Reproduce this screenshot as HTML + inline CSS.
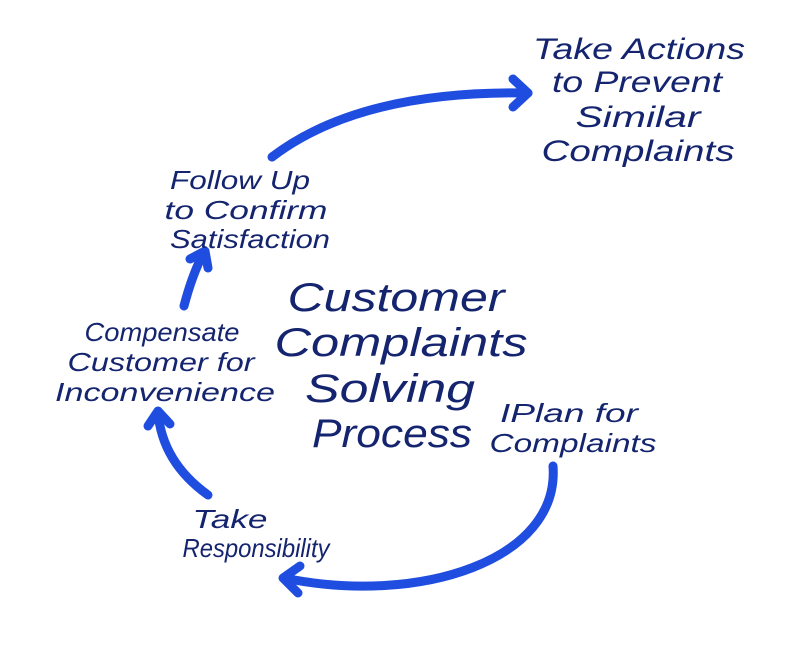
<!DOCTYPE html>
<html><head><style>
html,body{margin:0;padding:0;background:#fff;}
svg{display:block;}
text{font-family:"Liberation Sans",sans-serif;font-style:italic;fill:#14246e;text-anchor:middle;}
</style></head><body>
<svg width="800" height="655" viewBox="0 0 800 655" xmlns="http://www.w3.org/2000/svg">
<g fill="none" stroke="#1f4de0" stroke-width="9" stroke-linecap="round" stroke-linejoin="round">
<path d="M272 157 Q360 90 528 93"/><path d="M513 79 L528 93 L513 107"/>
<path d="M184 306 Q192 275 204 252"/><path d="M190 259 L205 251 L208 268"/>
<path d="M208 495 Q162 462 158 412"/><path d="M148 426 L158 411 L170 424"/>
<path d="M553 466 C560 560 420 606 284 578"/><path d="M300 566 L283 578 L298 593"/>
</g>
<g font-size="30" lengthAdjust="spacingAndGlyphs">
<text x="639" y="59" textLength="212" lengthAdjust="spacingAndGlyphs">Take Actions</text>
<text x="637" y="92" textLength="170" lengthAdjust="spacingAndGlyphs">to Prevent</text>
<text x="638" y="127" textLength="125" lengthAdjust="spacingAndGlyphs">Similar</text>
<text x="638" y="161" textLength="193" lengthAdjust="spacingAndGlyphs">Complaints</text>
</g>
<g font-size="26">
<text x="240" y="189" textLength="140" lengthAdjust="spacingAndGlyphs">Follow Up</text>
<text x="246" y="219" textLength="163" lengthAdjust="spacingAndGlyphs">to Confirm</text>
<text x="250" y="248" textLength="160" lengthAdjust="spacingAndGlyphs">Satisfaction</text>
<text x="162" y="341" textLength="155" lengthAdjust="spacingAndGlyphs">Compensate</text>
<text x="161" y="371" textLength="187" lengthAdjust="spacingAndGlyphs">Customer for</text>
<text x="165" y="401" textLength="220" lengthAdjust="spacingAndGlyphs">Inconvenience</text>
<text x="569" y="422" textLength="138" lengthAdjust="spacingAndGlyphs">IPlan for</text>
<text x="573" y="452" textLength="167" lengthAdjust="spacingAndGlyphs">Complaints</text>
<text x="230" y="528" textLength="75" lengthAdjust="spacingAndGlyphs">Take</text>
<text x="256" y="557" textLength="147" lengthAdjust="spacingAndGlyphs">Responsibility</text>
</g>
<g font-size="40">
<text x="396" y="311" textLength="217" lengthAdjust="spacingAndGlyphs">Customer</text>
<text x="401" y="356" textLength="253" lengthAdjust="spacingAndGlyphs">Complaints</text>
<text x="390" y="402" textLength="170" lengthAdjust="spacingAndGlyphs">Solving</text>
<text x="392" y="447" textLength="160" lengthAdjust="spacingAndGlyphs">Process</text>
</g>
</svg>
</body></html>
